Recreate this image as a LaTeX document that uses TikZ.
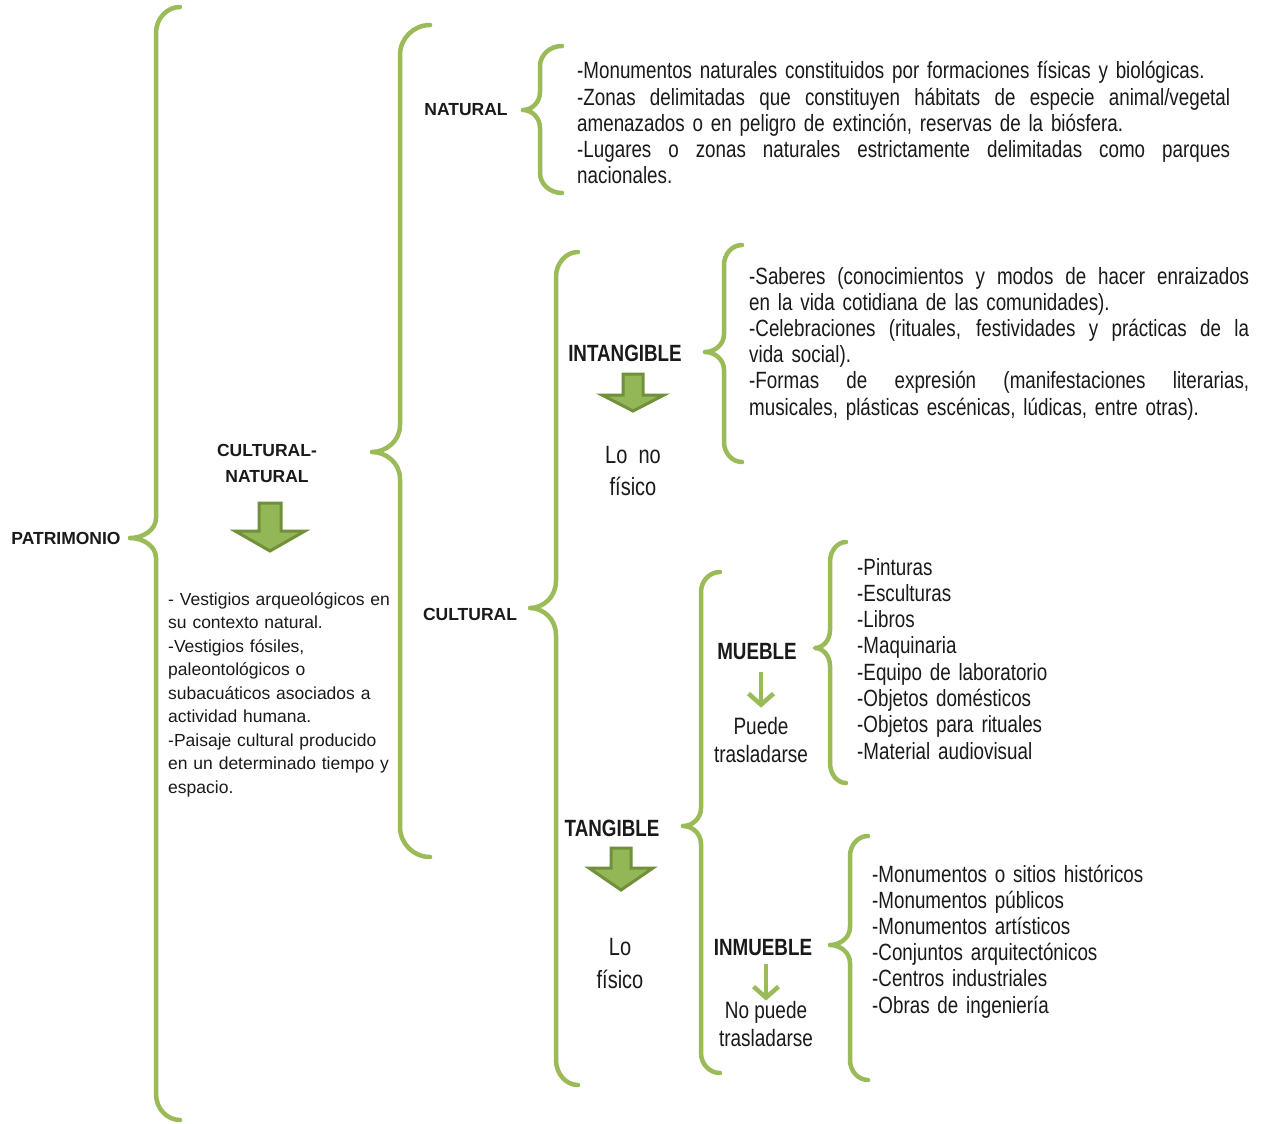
\documentclass[tikz,border=0pt]{standalone}
\usepackage{fontspec}
\setmainfont{Liberation Sans}
\newfontfamily\narrowfont[FakeStretch=0.80]{Liberation Sans}
\usetikzlibrary{arrows.meta}
\definecolor{brgreen}{HTML}{9BBB59}
\definecolor{ardark}{HTML}{71903A}
\definecolor{arfill}{HTML}{93B656}
\definecolor{txt}{HTML}{1A1A1A}
% x, ytop, ybot, ytip, xtip, xend, r, r2
\newcommand\gbrace[8]{%
  \draw[bracestyle] (#6,#2) .. controls ({#1+0.45*(#6-#1)},#2) and (#1,{#2+0.45*#7}) .. (#1,{#2+#7})
    -- (#1,{#4-#8}) .. controls (#1,{#4-0.4*#8}) and ({#5+0.5*(#1-#5)},#4) .. (#5,#4)
    .. controls ({#5+0.5*(#1-#5)},#4) and (#1,{#4+0.4*#8}) .. (#1,{#4+#8})
    -- (#1,{#3-#7}) .. controls (#1,{#3-0.45*#7}) and ({#1+0.45*(#6-#1)},#3) .. (#6,#3);}
% cx, ytop, yheadbase, ytip, shaft half width, head half width
\newcommand\blockarrow[6]{%
  \filldraw[blockarr] ({#1-#5},#2) -- ({#1+#5},#2) -- ({#1+#5},#3) -- ({#1+#6},#3) -- (#1,#4)
    -- ({#1-#6},#3) -- ({#1-#5},#3) -- cycle;}
% justified line of given width
\newcommand\jl[2]{\leavevmode\hbox to #1{\spaceskip=0.27em plus 1fil\relax #2}}
\begin{document}
\begin{tikzpicture}[x=1pt,y=-1pt,
  bracestyle/.style={draw=brgreen, line width=4.5pt, line cap=round, line join=round},
  blockarr/.style={fill=arfill, draw=ardark, line width=3pt, line join=miter},
  thinarr/.style={draw=brgreen, line width=4.5pt, -{Straight Barb[length=11pt,width=25pt]}},
  lab/.style={inner sep=0pt, anchor=base, text=txt, font=\bfseries\fontsize{17.5}{21}\selectfont},
  nlab/.style={inner sep=0pt, anchor=base, text=txt, font=\narrowfont\bfseries\fontsize{23.5}{26}\selectfont},
  ntext/.style={inner sep=0pt, anchor=base, text=txt, font=\narrowfont\fontsize{23.7}{28}\selectfont},
  btext/.style={inner sep=0pt, anchor=base, text=txt, font=\narrowfont\fontsize{25}{32}\selectfont},
  block/.style={inner sep=0pt, anchor=base west, text=txt, align=left, font=\narrowfont\fontsize{23.5}{26.2}\selectfont},
]
\fill[white] (0,0) rectangle (1262,1124);
\useasboundingbox (0,0) rectangle (1262,1124);

% braces
\gbrace{156}{7}{1120}{538}{130}{180}{26}{20}
\gbrace{400}{25}{857}{452}{372}{430}{30}{27}
\gbrace{540}{46}{193}{110}{523}{562}{20}{18}
\gbrace{556}{252}{1085}{608}{530}{578}{25}{27}
\gbrace{724}{245}{462}{352}{705}{742}{20}{18}
\gbrace{701}{572}{1073}{826}{683}{720}{20}{18}
\gbrace{830}{542}{783}{648}{815}{846}{20}{18}
\gbrace{850}{836}{1080}{945}{830}{868}{20}{18}

% labels
\node[lab] (patr) at (66,544) {PATRIMONIO};
\node[lab] (cn1) at (267,456) {CULTURAL-};
\node[lab] (cn2) at (267,482) {NATURAL};
\node[lab] (nat) at (466,116) {NATURAL};
\node[lab] (cult) at (470,620) {CULTURAL};
\node[nlab] (intang) at (625,361) {INTANGIBLE};
\node[nlab] (tang) at (612,836) {TANGIBLE};
\node[nlab] (mueble) at (757,659) {MUEBLE};
\node[nlab] (inmueble) at (763,955) {INMUEBLE};

% block arrows
\blockarrow{270}{503}{531}{551}{11}{35}
\blockarrow{633}{374}{395}{411}{10}{31}
\blockarrow{621}{848}{868}{890}{10}{32}

% sub-labels
\node[btext] (lono1) at (633,463) {Lo\hspace{0.45em}no};
\node[btext] (lono2) at (633,495) {físico};
\node[btext] (lo1) at (620,955) {Lo};
\node[btext] (lo2) at (620,988) {físico};
\node[ntext] (puede) at (761,734) {Puede};
\node[ntext] (puede2) at (761,762) {trasladarse};
\node[ntext] (nopuede) at (766,1018) {No puede};
\node[ntext] (nopuede2) at (766,1046) {trasladarse};

\draw[thinarr, shorten <=13pt, shorten >=9pt] (puede.north |- mueble.south) -- (puede.north);
\draw[thinarr, shorten <=9pt, shorten >=0pt] (nopuede.north |- inmueble.south) -- (nopuede.north);

% text blocks
\node[block, text width=653pt] (tnat) at (577,79) {%
-Monumentos naturales constituidos por formaciones físicas y biológicas.\\
\jl{653pt}{-Zonas delimitadas que constituyen hábitats de especie animal/vegetal}\\
amenazados o en peligro de extinción, reservas de la biósfera.\\
\jl{653pt}{-Lugares o zonas naturales estrictamente delimitadas como parques}\\
nacionales.};

\node[block, text width=500pt] (tint) at (749,284) {%
\jl{500pt}{-Saberes (conocimientos y modos de hacer enraizados}\\
en la vida cotidiana de las comunidades).\\
\jl{500pt}{-Celebraciones (rituales, festividades y prácticas de la}\\
vida social).\\
\jl{500pt}{-Formas de expresión (manifestaciones literarias,}\\
musicales, plásticas escénicas, lúdicas, entre otras).};

\node[block, text width=260pt, font=\narrowfont\fontsize{23.5}{26.3}\selectfont] (tmue) at (857,575) {%
-Pinturas\\
-Esculturas\\
-Libros\\
-Maquinaria\\
-Equipo de laboratorio\\
-Objetos domésticos\\
-Objetos para rituales\\
-Material audiovisual};

\node[block, text width=300pt, font=\narrowfont\fontsize{23.5}{26.2}\selectfont] (tinm) at (872,882) {%
-Monumentos o sitios históricos\\
-Monumentos públicos\\
-Monumentos artísticos\\
-Conjuntos arquitectónicos\\
-Centros industriales\\
-Obras de ingeniería};

\node[block, text width=240pt, font=\fontsize{17.5}{23.5}\selectfont] (tcn) at (168,605) {%
- Vestigios arqueológicos en\\
su contexto natural.\\
-Vestigios fósiles,\\
paleontológicos o\\
subacuáticos asociados a\\
actividad humana.\\
-Paisaje cultural producido\\
en un determinado tiempo y\\
espacio.};
\end{tikzpicture}
\end{document}
